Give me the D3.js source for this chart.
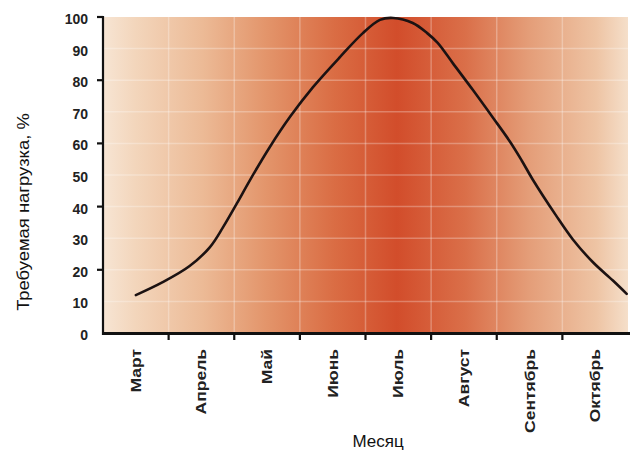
<!DOCTYPE html>
<html>
<head>
<meta charset="utf-8">
<script src="https://cdn.jsdelivr.net/npm/d3@7"></script>
<style>
  html, body { margin: 0; padding: 0; background: #fff; }
  svg { display: block; }
</style>
</head>
<body>
<svg id="chart" width="632" height="452"></svg>
<script>
// ---- data ----
const months = ["Март", "Апрель", "Май", "Июнь", "Июль", "Август", "Сентябрь", "Октябрь"];
const yTickValues = [0, 10, 20, 30, 40, 50, 60, 70, 80, 90, 100];
const yMajorTicks = [0, 20, 40, 60, 80, 100];
// curve sampled along months (0 = Март centre, 1 = Апрель centre, ...)
const loadMonth = [0, 0.41, 0.82, 1.13, 1.33, 1.54, 1.74, 2.04, 2.35, 2.7, 3.11, 3.46, 3.72, 3.92, 4.22, 4.44, 4.6, 4.83, 5.14, 5.44, 5.7, 5.88, 6.05, 6.4, 6.66, 6.97, 7.27, 7.48];
const loadValue = [12, 16.1, 21.2, 27.2, 33.5, 41, 48.4, 58.8, 68.4, 77.8, 87.3, 94.9, 99.1, 99.7, 98.1, 94.9, 91.8, 85.4, 76.8, 68.2, 60.6, 54.6, 48.5, 37.3, 29.6, 22.3, 16.6, 12.4];
const yTitle = "Требуемая нагрузка, %";
const xTitle = "Месяц";

(function () {
// ---- layout ----
const svg = d3.select("#chart");
const pLeft = 103, pRight = 628, pTop = 17, pBottom = 333;

const x = d3.scaleLinear().domain([-0.5, months.length - 0.5]).range([pLeft, pRight]);
const y = d3.scaleLinear().domain([0, 100]).range([pBottom, pTop]);

// background gradient
const defs = svg.append("defs");
const grad = defs.append("linearGradient").attr("id", "bg").attr("x1", "0").attr("x2", "1").attr("y1", "0").attr("y2", "0");
const stops = [
  [0.00, "#f7e5d4"], [0.06, "#f3d6bc"], [0.19, "#ecba96"], [0.31, "#e3956b"],
  [0.44, "#da6d44"], [0.56, "#d24d2b"], [0.69, "#da6f49"], [0.81, "#e49d78"],
  [0.94, "#eec4a4"], [1.00, "#f5dfca"]
];
stops.forEach(s => grad.append("stop").attr("offset", s[0]).attr("stop-color", s[1]));

svg.append("rect")
  .attr("x", pLeft).attr("y", pTop)
  .attr("width", pRight - pLeft).attr("height", pBottom - pTop)
  .attr("fill", "url(#bg)");

// grid lines
const grid = svg.append("g").attr("stroke", "#fff").attr("stroke-opacity", 0.28).attr("stroke-width", 1.5);
grid.selectAll("line.h").data(yTickValues.filter(v => v > 0 && v < 100)).join("line")
  .attr("class", "h")
  .attr("x1", pLeft).attr("x2", pRight)
  .attr("y1", d => y(d)).attr("y2", d => y(d));
const boundaries = d3.range(0.5, months.length - 0.5, 1);
grid.selectAll("line.v").data(boundaries).join("line")
  .attr("class", "v")
  .attr("x1", d => x(d)).attr("x2", d => x(d))
  .attr("y1", pTop).attr("y2", pBottom);

// curve
const line = d3.line()
  .x((d, i) => x(loadMonth[i]))
  .y(d => y(d))
  .curve(d3.curveCatmullRom.alpha(0.5));
svg.append("path")
  .datum(loadValue)
  .attr("d", line)
  .attr("fill", "none")
  .attr("stroke", "#1c1212")
  .attr("stroke-width", 2.6)
  .attr("stroke-linecap", "round")
  .attr("stroke-linejoin", "round");

// y axis
const yAxis = svg.append("g");
yAxis.append("line").attr("x1", pLeft).attr("x2", pLeft).attr("y1", pTop - 1).attr("y2", pBottom + 2)
  .attr("stroke", "#111").attr("stroke-width", 2.2);
yAxis.selectAll("line.t").data(yMajorTicks.filter(v => v > 0)).join("line")
  .attr("class", "t")
  .attr("x1", pLeft - 6).attr("x2", pLeft)
  .attr("y1", d => y(d)).attr("y2", d => y(d))
  .attr("stroke", "#111").attr("stroke-width", 2.2);
yAxis.selectAll("text").data(yTickValues).join("text")
  .attr("x", 88).attr("y", d => y(d) + 2)
  .attr("dy", "0.35em")
  .attr("text-anchor", "end")
  .attr("font-family", "Liberation Sans, Arial, sans-serif")
  .attr("font-weight", "bold")
  .attr("font-size", 14)
  .attr("fill", "#222")
  .text(d => d);

// x axis
const xAxis = svg.append("g");
xAxis.append("line").attr("x1", pLeft - 1).attr("x2", pRight + 2).attr("y1", pBottom + 0.5).attr("y2", pBottom + 0.5)
  .attr("stroke", "#111").attr("stroke-width", 3);
xAxis.selectAll("line.t").data(boundaries).join("line")
  .attr("class", "t")
  .attr("x1", d => x(d)).attr("x2", d => x(d))
  .attr("y1", pBottom).attr("y2", pBottom + 7)
  .attr("stroke", "#111").attr("stroke-width", 2.2);
xAxis.selectAll("text").data(months).join("text")
  .attr("transform", (d, i) => `translate(${x(i) + 5},349) rotate(-90) scale(1.25,1)`)
  .attr("text-anchor", "end")
  .attr("font-family", "Liberation Sans, Arial, sans-serif")
  .attr("font-weight", "bold")
  .attr("font-size", 14)
  .attr("fill", "#222")
  .text(d => d);

// titles
svg.append("text")
  .attr("transform", `translate(29,212) rotate(-90) scale(1.15,1)`)
  .attr("text-anchor", "middle")
  .attr("font-family", "Liberation Sans, Arial, sans-serif")
  .attr("font-size", 16)
  .attr("fill", "#111")
  .text(yTitle);
svg.append("text")
  .attr("x", 378).attr("y", 447)
  .attr("text-anchor", "middle")
  .attr("font-family", "Liberation Sans, Arial, sans-serif")
  .attr("font-size", 17)
  .attr("fill", "#111")
  .text(xTitle);
})();
</script>
</body>
</html>
